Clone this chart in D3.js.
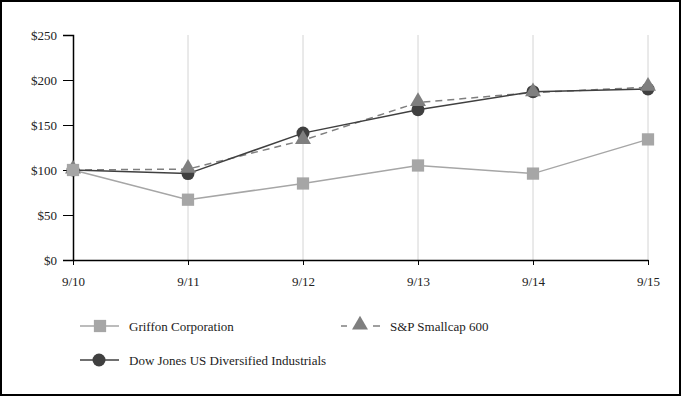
<!DOCTYPE html>
<html>
<head>
<meta charset="utf-8">
<script src="https://cdn.jsdelivr.net/npm/d3@7"></script>
<style>
  body { margin: 0; background: #fff; }
  svg text { font-family: "Liberation Serif", "Times New Roman", Times, "DejaVu Serif", serif !important; }
</style>
</head>
<body>
<div id="chart"></div>
<script>
// data
const years = ['9/10', '9/11', '9/12', '9/13', '9/14', '9/15'];
const yTicks = [0, 50, 100, 150, 200, 250];
const griffon = [100, 67, 85, 105, 96, 134];
const smallcap = [100, 101, 133, 175, 186, 192];
const dowJones = [100, 96, 141, 167, 187, 190];

const seriesNames = ['Griffon Corporation', 'S&P Smallcap 600', 'Dow Jones US Diversified Industrials'];

const W = 682, H = 397;
let margin = {top: 35, right: 34, bottom: 137, left: 73},
    width = W - margin.left - margin.right,
    height = H - margin.top - margin.bottom;

let svg = d3.select('#chart').append('svg')
    .attr('width', W)
    .attr('height', H);

// outer frame
svg.append('rect')
    .attr('x', 1).attr('y', 1)
    .attr('width', W - 3).attr('height', H - 3)
    .attr('fill', 'none')
    .attr('stroke', '#000')
    .attr('stroke-width', 2);

let x = d3.scalePoint().domain(years).range([0, width]);
let y = d3.scaleLinear().domain([0, 250]).range([height, 0]);

let g = svg.append('g')
    .attr('transform', 'translate(' + margin.left + ',' + margin.top + ')');

// vertical grid
g.selectAll('.grid')
    .data(years.slice(1))
    .enter().append('line')
    .attr('class', 'grid')
    .attr('x1', d => x(d)).attr('x2', d => x(d))
    .attr('y1', 0).attr('y2', height)
    .attr('stroke', '#d4d4d4')
    .attr('stroke-width', 1);

// axes
let yAxis = g.append('g')
    .call(d3.axisLeft(y).tickValues(yTicks).tickSize(10).tickPadding(6)
        .tickFormat(d => '$' + d));
yAxis.select('.domain').attr('stroke', '#000').attr('stroke-width', 1.5);
yAxis.selectAll('.tick line').attr('stroke', '#000');
yAxis.selectAll('text').attr('font-size', '13px').attr('fill', '#222');

let xAxis = g.append('g')
    .attr('transform', 'translate(0,' + height + ')')
    .call(d3.axisBottom(x).tickSize(5).tickPadding(12).tickSizeOuter(0));
xAxis.select('.domain').attr('stroke', '#000').attr('stroke-width', 1.5);
xAxis.selectAll('.tick line').attr('stroke', '#000');
xAxis.selectAll('text').attr('font-size', '13px').attr('fill', '#222');

const line = d3.line()
    .x((d, i) => x(years[i]))
    .y(d => y(d));

const griffonColor = '#a6a6a6';
const smallColor = '#7f7f7f';
const dowColor = '#404040';

// lines
g.append('path').datum(griffon)
    .attr('fill', 'none').attr('stroke', griffonColor).attr('stroke-width', 1.5)
    .attr('d', line);
g.append('path').datum(smallcap)
    .attr('fill', 'none').attr('stroke', smallColor).attr('stroke-width', 1.5)
    .attr('stroke-dasharray', '7,5')
    .attr('d', line);
g.append('path').datum(dowJones)
    .attr('fill', 'none').attr('stroke', dowColor).attr('stroke-width', 1.5)
    .attr('d', line);

// markers
const sq = d3.symbol().type(d3.symbolSquare).size(150);
const tri = d3.symbol().type(d3.symbolTriangle).size(110);

g.selectAll('.m-dow')
    .data(dowJones)
    .enter().append('circle')
    .attr('cx', (d, i) => x(years[i]))
    .attr('cy', d => y(d))
    .attr('r', 6.5)
    .attr('fill', dowColor);

g.selectAll('.m-small')
    .data(smallcap)
    .enter().append('path')
    .attr('transform', (d, i) => 'translate(' + x(years[i]) + ',' + (y(d) - 1) + ')')
    .attr('d', tri)
    .attr('fill', smallColor);

g.selectAll('.m-griffon')
    .data(griffon)
    .enter().append('path')
    .attr('transform', (d, i) => 'translate(' + x(years[i]) + ',' + y(d) + ')')
    .attr('d', sq)
    .attr('fill', griffonColor);

// legend
const legendItems = [
    {name: seriesNames[0], color: griffonColor, marker: 'square', lx: 80, ly: 326},
    {name: seriesNames[1], color: smallColor, marker: 'triangle', lx: 341, ly: 326},
    {name: seriesNames[2], color: dowColor, marker: 'circle', lx: 80, ly: 360}
];

let legend = svg.selectAll('.legend')
    .data(legendItems)
    .enter().append('g')
    .attr('class', 'legend')
    .attr('transform', d => 'translate(' + d.lx + ',' + d.ly + ')');

legend.each(function (d) {
    let el = d3.select(this);
    if (d.marker === 'triangle') {
        el.append('line').attr('x1', 0).attr('x2', 6).attr('y1', 0).attr('y2', 0)
            .attr('stroke', d.color).attr('stroke-width', 1.5);
        el.append('line').attr('x1', 32).attr('x2', 39).attr('y1', 0).attr('y2', 0)
            .attr('stroke', d.color).attr('stroke-width', 1.5);
        el.append('path').attr('transform', 'translate(19,-1)').attr('d', tri).attr('fill', d.color);
    } else {
        el.append('line').attr('x1', 0).attr('x2', 39).attr('y1', 0).attr('y2', 0)
            .attr('stroke', d.color).attr('stroke-width', 1.5);
        if (d.marker === 'square') {
            el.append('path').attr('transform', 'translate(20,0)').attr('d', sq).attr('fill', d.color);
        } else {
            el.append('circle').attr('cx', 19).attr('cy', 0).attr('r', 6.5).attr('fill', d.color);
        }
    }
});

legend.append('text')
    .attr('x', 49)
    .attr('y', 4.5)
    .attr('font-size', '13px')
    .attr('fill', '#222')
    .text(d => d.name);
</script>
</body>
</html>
